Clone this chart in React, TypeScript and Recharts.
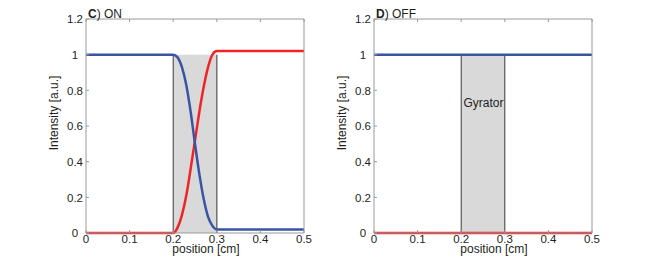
import React from "react";
import {
  LineChart,
  Line,
  XAxis,
  YAxis,
  ReferenceArea,
  ReferenceLine,
  Label,
} from "recharts";

// ---- data ----
const xTicks = [0, 0.1, 0.2, 0.3, 0.4, 0.5];
const yTicks = [0, 0.2, 0.4, 0.6, 0.8, 1, 1.2];

const onPositions = [0, 0.2, 0.21, 0.22, 0.23, 0.24, 0.25, 0.26, 0.27, 0.28, 0.29, 0.3, 0.5];
const onBlue = [1, 1, 0.985, 0.93, 0.83, 0.68, 0.5, 0.33, 0.19, 0.09, 0.04, 0.02, 0.02];
const onRed = [0, 0, 0.03, 0.1, 0.21, 0.36, 0.52, 0.68, 0.82, 0.93, 1.0, 1.02, 1.02];

const offPositions = [0, 0.5];
const offBlue = [1, 1];
const offRed = [0, 0];

const gyratorStart = 0.2;
const gyratorEnd = 0.3;
const gyratorTop = 1;

const onData = onPositions.map((x, i) => ({ x, blue: onBlue[i], red: onRed[i] }));
const offData = offPositions.map((x, i) => ({ x, blue: offBlue[i], red: offRed[i] }));

// ---- styles ----
const FONT = "Liberation Sans, Arial, Helvetica, sans-serif";
const TEXT = "#231f20";
const FRAME = "#9a9a9a";
const BLUE = "#3a54a4";
const RED = "#ee2428";

const BottomTick = (p: any) => (
  <g>
    <line x1={p.x} x2={p.x} y1={p.y} y2={p.y - 3} stroke={FRAME} />
    <text x={p.x} y={p.y + 10.3} textAnchor="middle" fontSize={11.5} fill={TEXT} fontFamily={FONT}>
      {String(p.payload.value)}
    </text>
  </g>
);
const TopTick = (p: any) => (
  <line x1={p.x} x2={p.x} y1={p.y} y2={p.y + 3} stroke={FRAME} />
);
const LeftTick = (p: any) => (
  <g>
    <line x1={p.x} x2={p.x + 3} y1={p.y} y2={p.y} stroke={FRAME} />
    <text x={p.x - 11} y={p.y + 4.2} textAnchor="middle" fontSize={11.5} fill={TEXT} fontFamily={FONT}>
      {String(p.payload.value)}
    </text>
  </g>
);
const RightTick = (p: any) => (
  <line x1={p.x} x2={p.x - 3} y1={p.y} y2={p.y} stroke={FRAME} />
);

function Panel({
  data,
  letter,
  title,
  showGyrator,
  grayRightLine,
}: {
  data: any[];
  letter: string;
  title: string;
  showGyrator: boolean;
  grayRightLine: boolean;
}) {
  return (
    <LineChart
      width={330}
      height={263}
      data={data}
      margin={{ top: 0, right: 0, bottom: 0, left: 0 }}
    >
      <XAxis
        dataKey="x"
        type="number"
        domain={[0, 0.5]}
        ticks={xTicks}
        height={30}
        tickSize={0}
        tickMargin={0}
        tickLine={false}
        tick={<BottomTick />}
        axisLine={{ stroke: FRAME }}
        interval={0}
      >
        <Label
          content={(props: any) => {
            const vb = props.viewBox;
            return (
              <text
                x={vb.x + vb.width / 2 + 11}
                y={252.5}
                textAnchor="middle"
                fontSize={12}
                fill={TEXT}
                fontFamily={FONT}
              >
                position [cm]
              </text>
            );
          }}
        />
      </XAxis>
      <XAxis
        xAxisId="top"
        orientation="top"
        dataKey="x"
        type="number"
        domain={[0, 0.5]}
        ticks={xTicks}
        height={19}
        tickSize={0}
        tickMargin={0}
        tickLine={false}
        tick={<TopTick />}
        axisLine={{ stroke: FRAME }}
        interval={0}
      >
        <Label
          content={(props: any) => {
            const vb = props.viewBox;
            return (
              <text x={vb.x + 2} y={17.5} fontSize={12} fill={TEXT} fontFamily={FONT}>
                <tspan fontWeight="bold">{letter}</tspan>
                <tspan>{title}</tspan>
              </text>
            );
          }}
        />
      </XAxis>
      <YAxis
        type="number"
        domain={[0, 1.2]}
        ticks={yTicks}
        width={86}
        tickSize={0}
        tickMargin={0}
        tickLine={false}
        tick={<LeftTick />}
        axisLine={{ stroke: FRAME }}
        interval={0}
      >
        <Label
          content={(props: any) => {
            const vb = props.viewBox;
            const cx = vb.x + vb.width - 28.5;
            const cy = 113;
            return (
              <text
                x={cx}
                y={cy}
                transform={`rotate(-90 ${cx} ${cy})`}
                textAnchor="middle"
                fontSize={12}
                fill={TEXT}
                fontFamily={FONT}
              >
                Intensity [a.u.]
              </text>
            );
          }}
        />
      </YAxis>
      <YAxis
        yAxisId="right"
        orientation="right"
        type="number"
        domain={[0, 1.2]}
        ticks={yTicks}
        width={26}
        tickSize={0}
        tickMargin={0}
        tickLine={false}
        tick={<RightTick />}
        axisLine={{ stroke: FRAME }}
        interval={0}
      />
      <ReferenceArea
        x1={gyratorStart}
        x2={gyratorEnd}
        y1={0}
        y2={gyratorTop}
        fill="#d9d9d9"
        fillOpacity={1}
        stroke="none"
      >
        {showGyrator ? (
          <Label
            content={(props: any) => {
              const vb = props.viewBox;
              return (
                <text
                  x={vb.x + vb.width / 2 + 0.5}
                  y={vb.y + 52.5}
                  textAnchor="middle"
                  fontSize={12}
                  fill={TEXT}
                  fontFamily={FONT}
                >
                  Gyrator
                </text>
              );
            }}
          />
        ) : null}
      </ReferenceArea>
      <ReferenceLine
        segment={[
          { x: gyratorStart, y: 0 },
          { x: gyratorStart, y: gyratorTop },
        ]}
        stroke="#3a3a3a"
        strokeWidth={1}
      />
      <ReferenceLine
        segment={[
          { x: gyratorEnd, y: 0 },
          { x: gyratorEnd, y: gyratorTop },
        ]}
        stroke={grayRightLine ? "#707070" : "#3a3a3a"}
        strokeWidth={grayRightLine ? 1.5 : 1}
      />
      <Line
        dataKey="red"
        type="monotone"
        stroke={RED}
        strokeWidth={2.5}
        dot={false}
        activeDot={false}
        isAnimationActive={false}
      />
      <Line
        dataKey="blue"
        type="monotone"
        stroke={BLUE}
        strokeWidth={2.5}
        dot={false}
        activeDot={false}
        isAnimationActive={false}
      />
    </LineChart>
  );
}

export default function App() {
  return (
    <div
      style={{
        position: "absolute",
        left: 0,
        top: 0,
        width: 655,
        height: 263,
        background: "#fff",
        overflow: "hidden",
      }}
    >
      <div style={{ position: "absolute", left: 0, top: 0 }}>
        <Panel data={onData} letter="C" title=") ON" showGyrator={false} grayRightLine={true} />
      </div>
      <div style={{ position: "absolute", left: 288, top: 0 }}>
        <Panel data={offData} letter="D" title=") OFF" showGyrator={true} grayRightLine={false} />
      </div>
    </div>
  );
}
